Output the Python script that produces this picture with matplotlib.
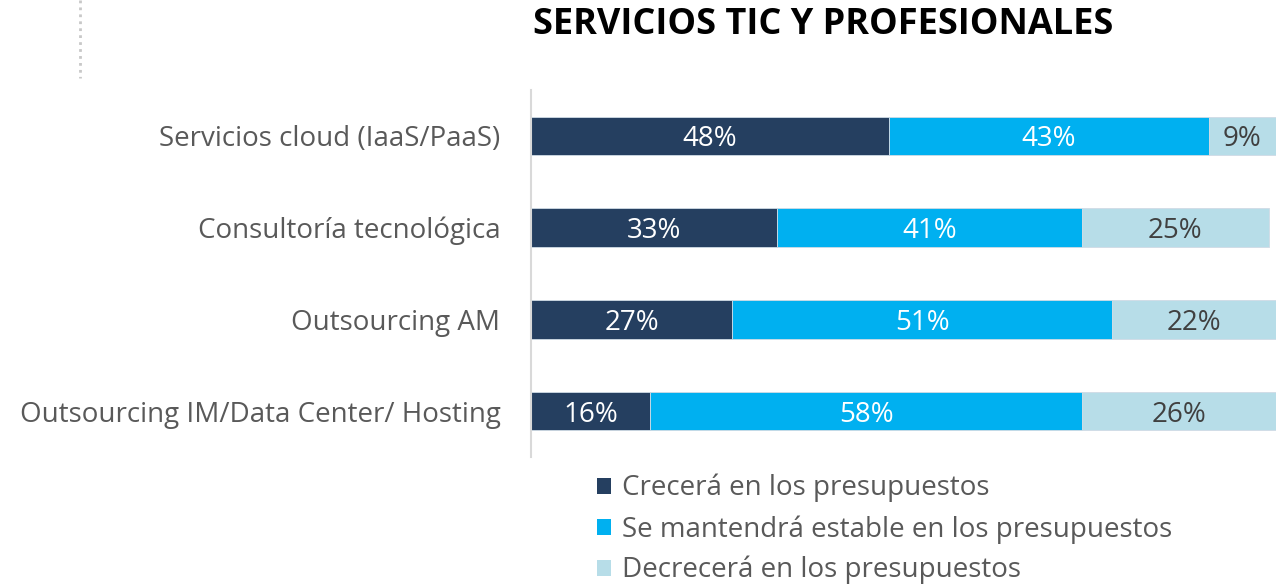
import matplotlib.pyplot as plt
from matplotlib.lines import Line2D
from matplotlib.patches import Patch

plt.rcParams['font.family'] = ['Open Sans', 'DejaVu Sans']

categories = ["Servicios cloud (IaaS/PaaS)", "Consultoría tecnológica",
              "Outsourcing AM", "Outsourcing IM/Data Center/ Hosting"]
crecera = [48, 33, 27, 16]
estable = [43, 41, 51, 58]
decrecera = [9, 25, 22, 26]
series_names = ["Crecerá en los presupuestos",
                "Se mantendrá estable en los presupuestos",
                "Decrecerá en los presupuestos"]
colors = ["#253F60", "#00B0F0", "#B7DDE8"]
label_colors = ["white", "white", "#404040"]

fig = plt.figure(figsize=(12.76, 5.84), dpi=100)
ax = fig.add_axes([531 / 1276, 1 - 457 / 584, 745 / 1276, 367 / 584])

y = list(range(len(categories)))
left = [0] * len(categories)
for vals, col, lc in zip([crecera, estable, decrecera], colors, label_colors):
    bars = ax.barh(y, vals, left=left, height=0.42, color=col,
                   edgecolor="#d0dbe5", linewidth=0.6)
    for b, v in zip(bars, vals):
        ax.text(b.get_x() + b.get_width() / 2, b.get_y() + b.get_height() / 2,
                f"{v}%", ha="center", va="center_baseline", fontsize=20, color=lc)
    left = [l + v for l, v in zip(left, vals)]

ax.set_xlim(0, 100)
ax.set_ylim(3.5, -0.5)
ax.set_yticks(y)
ax.set_yticklabels(categories, fontsize=20, color="#595959")
ax.tick_params(axis="y", length=0, pad=22)
ax.set_xticks([])
for s in ["top", "right", "bottom"]:
    ax.spines[s].set_visible(False)
ax.spines["left"].set_color("#d9d9d9")
ax.spines["left"].set_linewidth(1.5)

fig.text(823 / 1276, 1 - 25 / 584, "SERVICIOS TIC Y PROFESIONALES",
         ha="center", va="center", fontsize=26, fontweight="bold", color="black")

fig.add_artist(Line2D([80 / 1276, 80 / 1276], [1.0, 1 - 78 / 584],
                      transform=fig.transFigure, color="#c8c8c8",
                      linestyle=(0, (1, 1.5)), linewidth=2))

handles = [Patch(facecolor=c, edgecolor="none") for c in colors]
fig.legend(handles, series_names, loc="upper left",
           bbox_to_anchor=(597 / 1276, 1 - 474 / 584), frameon=False,
           fontsize=20, labelcolor="#595959", handlelength=0.5,
           handleheight=0.5, handletextpad=0.4, labelspacing=0.45,
           borderpad=0, borderaxespad=0)

fig.savefig("out.png", dpi=100)
